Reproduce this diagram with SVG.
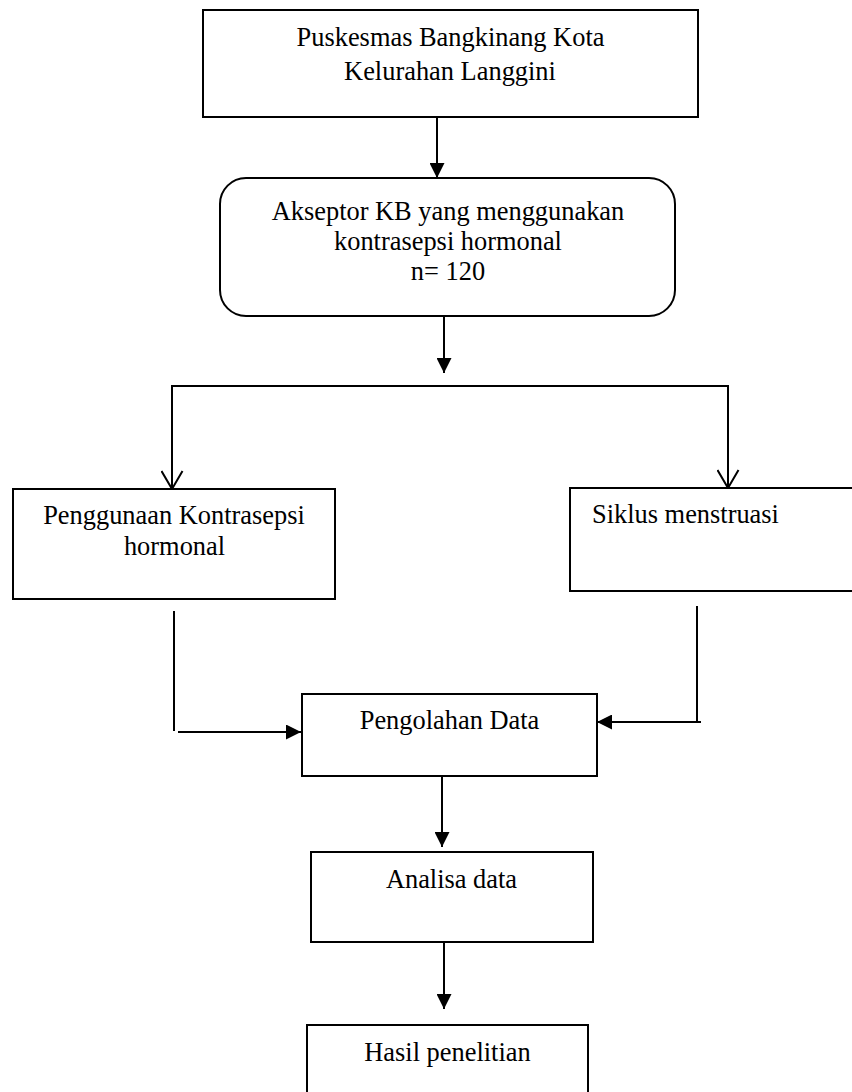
<svg xmlns="http://www.w3.org/2000/svg" width="852" height="1092" viewBox="0 0 852 1092">
<style>
.box{fill:#fff;stroke:#000;stroke-width:2}
.ln{fill:none;stroke:#000;stroke-width:2}
.t{font-family:"Liberation Serif","Times New Roman",serif;font-size:26.4px;fill:#000}
.c{text-anchor:middle}
</style>
<defs>
<marker id="fa" viewBox="0 0 15 15" refX="15" refY="7.5" markerWidth="15" markerHeight="15" markerUnits="userSpaceOnUse" orient="auto">
<path d="M0,0 L15,7.5 L0,15 z" fill="#000"/>
</marker>
<marker id="va" viewBox="-1 -1 20 23" refX="18" refY="10.5" markerWidth="20" markerHeight="23" markerUnits="userSpaceOnUse" orient="auto">
<path d="M0,0 L18,10.5 L0,21" fill="none" stroke="#000" stroke-width="2"/>
</marker>
</defs>
<rect width="852" height="1092" fill="#fff"/>
<g id="connectors">
<line class="ln" x1="437" y1="117" x2="437" y2="178" marker-end="url(#fa)"/>
<line class="ln" x1="444" y1="316" x2="444" y2="373" marker-end="url(#fa)"/>
<polyline class="ln" points="172,386 728,386"/>
<line class="ln" x1="172" y1="385" x2="172" y2="489" marker-end="url(#va)"/>
<line class="ln" x1="728" y1="385" x2="728" y2="488" marker-end="url(#va)"/>
<line class="ln" x1="174" y1="611" x2="174" y2="731"/>
<line class="ln" x1="178" y1="732" x2="301" y2="732" marker-end="url(#fa)"/>
<line class="ln" x1="697" y1="606" x2="697" y2="723"/>
<line class="ln" x1="701" y1="722" x2="597" y2="722" marker-end="url(#fa)"/>
<line class="ln" x1="442" y1="776" x2="442" y2="847" marker-end="url(#fa)"/>
<line class="ln" x1="444" y1="942" x2="444" y2="1009" marker-end="url(#fa)"/>
</g>
<g id="puskesmas">
<rect class="box" x="203" y="10" width="495" height="107"/>
<text class="t c" x="450.5" y="46">Puskesmas Bangkinang Kota</text>
<text class="t c" x="450" y="80">Kelurahan Langgini</text>
</g>
<g id="akseptor">
<rect class="box" x="220" y="178" width="455" height="138" rx="26" ry="26"/>
<text class="t c" x="448" y="220">Akseptor KB yang menggunakan</text>
<text class="t c" x="448" y="250">kontrasepsi hormonal</text>
<text class="t c" x="448" y="280">n= 120</text>
</g>
<g id="penggunaan">
<rect class="box" x="13" y="489" width="322" height="110"/>
<text class="t c" x="174" y="524">Penggunaan Kontrasepsi</text>
<text class="t c" x="174.5" y="555">hormonal</text>
</g>
<g id="siklus">
<rect class="box" x="570" y="488" width="300" height="103"/>
<text class="t" x="592" y="523">Siklus menstruasi</text>
</g>
<g id="pengolahan">
<rect class="box" x="302" y="694" width="295" height="82"/>
<text class="t c" x="449.5" y="729">Pengolahan Data</text>
</g>
<g id="analisa">
<rect class="box" x="311" y="852" width="282" height="90"/>
<text class="t c" x="451.5" y="888">Analisa data</text>
</g>
<g id="hasil">
<rect class="box" x="307" y="1025" width="281" height="80"/>
<text class="t c" x="447.5" y="1061">Hasil penelitian</text>
</g>
</svg>
